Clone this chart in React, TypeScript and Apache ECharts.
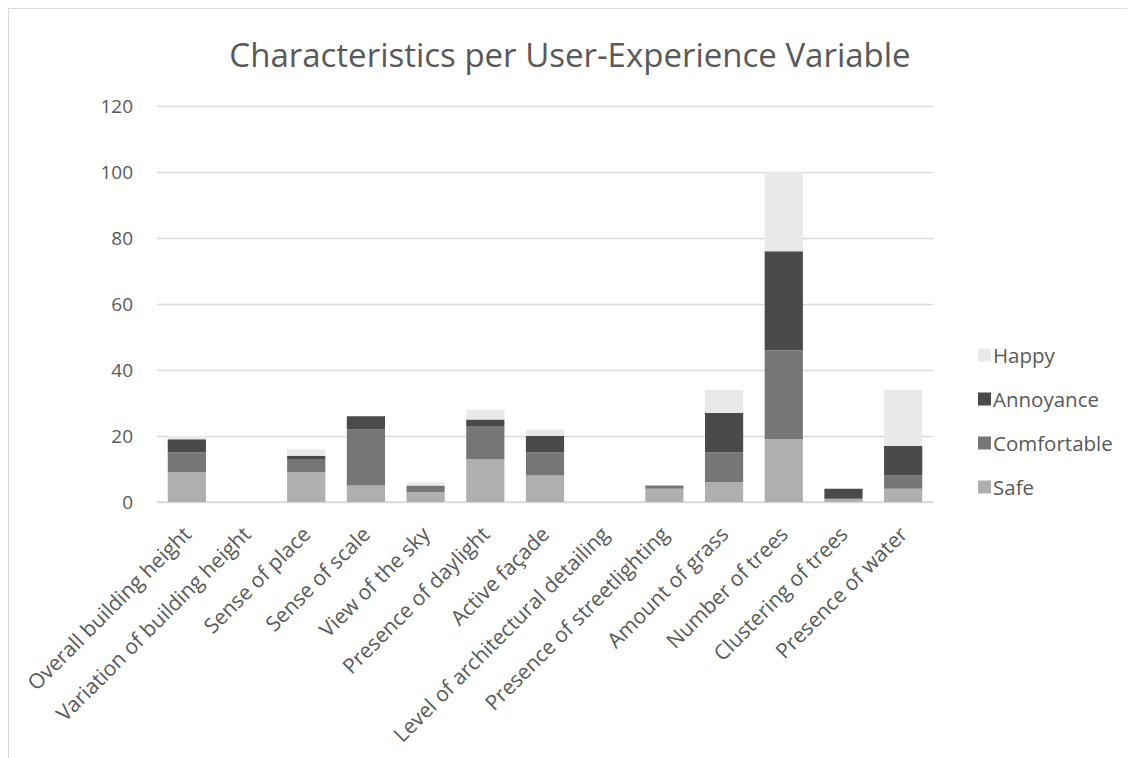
import React, { useEffect, useRef } from "react";
import * as echarts from "echarts";

const categories = [
  "Overall building height",
  "Variation of building height",
  "Sense of place",
  "Sense of scale",
  "View of the sky",
  "Presence of daylight",
  "Active façade",
  "Level of architectural detailing",
  "Presence of streetlighting",
  "Amount of grass",
  "Number of trees",
  "Clustering of trees",
  "Presence of water",
];

const safe = [9, 0, 9, 5, 3, 13, 8, 0, 4, 6, 19, 1, 4];
const comfortable = [6, 0, 4, 17, 2, 10, 7, 0, 1, 9, 27, 0, 4];
const annoyance = [4, 0, 1, 4, 0, 2, 5, 0, 0, 12, 30, 3, 9];
const happy = [1, 0, 2, 0, 1, 3, 2, 0, 0, 7, 24, 0, 17];

const yTicks = { min: 0, max: 120, interval: 20 };

const FONT = "'Open Sans', 'Noto Sans', sans-serif";
const TXT = "#595959";

export default function App() {
  const ref = useRef<HTMLDivElement>(null);
  useEffect(() => {
    if (!ref.current) return;
    const chart = echarts.init(ref.current, undefined, { renderer: "svg" });
    const mk = (name: string, data: number[], color: string) => ({
      name,
      type: "bar",
      stack: "total",
      data,
      barCategoryGap: "36%",
      itemStyle: { color },
      emphasis: { disabled: true },
    });
    chart.setOption({
      animation: false,
      backgroundColor: "#ffffff",
      title: {
        text: "Characteristics per User-Experience Variable",
        left: 556,
        top: 24,
        textAlign: "center",
        textStyle: { fontFamily: FONT, fontSize: 33, fontWeight: "normal", color: TXT },
      },
      legend: {
        orient: "vertical",
        left: 964,
        top: 330,
        itemWidth: 13,
        itemHeight: 13,
        itemGap: 22,
        icon: "rect",
        data: ["Happy", "Annoyance", "Comfortable", "Safe"],
        textStyle: { fontFamily: FONT, fontSize: 20.5, color: TXT, lineHeight: 22, padding: [0, 0, 0, -3] },
      },
      grid: { left: 148, right: 202, top: 97, bottom: 256, containLabel: false },
      xAxis: {
        type: "category",
        data: categories,
        axisLine: { lineStyle: { color: "#d9d9d9", width: 1.5 } },
        axisTick: { show: false },
        axisLabel: {
          rotate: 45,
          interval: 0,
          margin: 28,
          fontFamily: FONT,
          fontSize: 21,
          color: TXT,
        },
      },
      yAxis: {
        type: "value",
        min: yTicks.min,
        max: yTicks.max,
        interval: yTicks.interval,
        axisLine: { show: false },
        axisTick: { show: false },
        splitLine: { lineStyle: { color: "#d9d9d9", width: 1.3 } },
        axisLabel: { margin: 24, fontFamily: FONT, fontSize: 19, color: TXT },
      },
      series: [
        mk("Safe", safe, "#afafaf"),
        mk("Comfortable", comfortable, "#767676"),
        mk("Annoyance", annoyance, "#4a4a4a"),
        mk("Happy", happy, "#e9e9e9"),
      ],
    });
    return () => chart.dispose();
  }, []);
  return (
    <div
      style={{
        width: 1127,
        height: 750,
        boxSizing: "border-box",
        borderLeft: "1px solid #d9d9d9",
        borderTop: "1px solid #d9d9d9",
        overflow: "hidden",
      }}
    >
      <div ref={ref} style={{ width: 1126, height: 749 }} />
    </div>
  );
}
